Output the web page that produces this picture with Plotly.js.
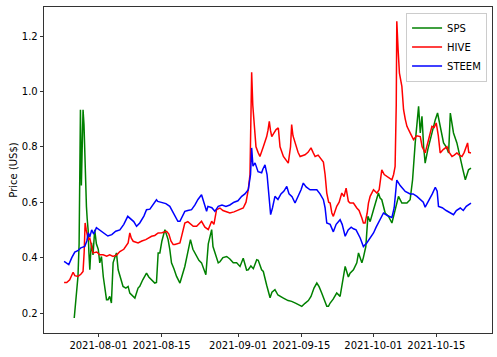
<!DOCTYPE html>
<html>
<head>
<meta charset="utf-8">
<script src="https://cdn.plot.ly/plotly-3.0.1.min.js"></script>
<style>html,body{margin:0;padding:0;background:#fff;}#chart{width:497px;height:357px;}</style>
</head>
<body>
<div id="chart"></div>
<script>
const spsDates = [
"2021-07-26 15:00","2021-07-26 20:00","2021-07-27 03:00","2021-07-27 11:00","2021-07-27 17:00","2021-07-27 20:00","2021-07-28 00:00","2021-07-28 05:00","2021-07-28 10:00","2021-07-28 14:00",
"2021-07-28 19:00","2021-07-28 23:00","2021-07-29 03:00","2021-07-29 08:00","2021-07-29 12:00","2021-07-29 17:00","2021-07-29 21:00","2021-07-30 02:00","2021-07-30 07:00","2021-07-30 11:00",
"2021-07-30 19:00","2021-07-31 04:00","2021-07-31 13:00","2021-07-31 23:00","2021-08-01 07:00","2021-08-01 16:00","2021-08-02 02:00","2021-08-02 10:00","2021-08-02 19:00","2021-08-03 03:00",
"2021-08-03 12:00","2021-08-03 21:00","2021-08-04 06:00","2021-08-04 15:00","2021-08-05 00:00","2021-08-05 09:00","2021-08-06 03:00","2021-08-06 11:00","2021-08-07 02:00","2021-08-07 14:00",
"2021-08-07 23:00","2021-08-08 17:00","2021-08-09 02:00","2021-08-09 19:00","2021-08-10 04:00","2021-08-10 20:00","2021-08-11 16:00","2021-08-12 04:00","2021-08-12 19:00","2021-08-13 12:00",
"2021-08-13 21:00","2021-08-14 06:00","2021-08-14 15:00","2021-08-15 02:00","2021-08-15 18:00","2021-08-16 11:00","2021-08-16 20:00","2021-08-17 05:00","2021-08-17 18:00","2021-08-18 08:00",
"2021-08-19 02:00","2021-08-19 18:00","2021-08-20 04:00","2021-08-20 20:00","2021-08-21 10:00","2021-08-21 23:00","2021-08-22 19:00","2021-08-23 07:00","2021-08-23 21:00","2021-08-24 10:00",
"2021-08-24 20:00","2021-08-25 09:00","2021-08-25 18:00","2021-08-26 03:00","2021-08-26 10:00","2021-08-26 20:00","2021-08-27 14:00","2021-08-27 23:00","2021-08-28 15:00","2021-08-29 11:00",
"2021-08-30 04:00","2021-08-30 22:00","2021-08-31 16:00","2021-09-01 10:00","2021-09-02 03:00","2021-09-02 21:00","2021-09-03 06:00","2021-09-03 20:00","2021-09-04 09:00","2021-09-05 03:00",
"2021-09-05 11:00","2021-09-06 05:00","2021-09-06 14:00","2021-09-07 08:00","2021-09-07 18:00","2021-09-08 02:00","2021-09-08 12:00","2021-09-09 04:00","2021-09-09 20:00","2021-09-10 07:00",
"2021-09-11 01:00","2021-09-12 02:00","2021-09-12 21:00","2021-09-13 20:00","2021-09-15 03:00","2021-09-15 20:00","2021-09-16 14:00","2021-09-17 04:00","2021-09-17 20:00","2021-09-18 11:00",
"2021-09-18 23:00","2021-09-19 13:00","2021-09-20 02:00","2021-09-20 16:00","2021-09-21 01:00","2021-09-21 10:00","2021-09-22 02:00","2021-09-22 21:00","2021-09-23 15:00","2021-09-24 02:00",
"2021-09-24 18:00","2021-09-25 11:00","2021-09-25 20:00","2021-09-26 14:00","2021-09-27 08:00","2021-09-27 17:00","2021-09-28 11:00","2021-09-28 19:00","2021-09-29 08:00","2021-09-29 19:00",
"2021-09-30 07:00","2021-10-01 01:00","2021-10-01 19:00","2021-10-02 03:00","2021-10-02 12:00","2021-10-02 21:00","2021-10-03 15:00","2021-10-04 09:00","2021-10-05 03:00","2021-10-05 20:00",
"2021-10-06 14:00","2021-10-07 08:00","2021-10-08 11:00","2021-10-09 04:00","2021-10-09 17:00","2021-10-10 07:00","2021-10-10 16:00","2021-10-11 01:00","2021-10-11 10:00","2021-10-11 19:00",
"2021-10-12 04:00","2021-10-12 12:00","2021-10-13 02:00","2021-10-13 15:00","2021-10-14 04:00","2021-10-14 18:00","2021-10-15 06:00","2021-10-15 20:00","2021-10-16 14:00","2021-10-17 04:00",
"2021-10-17 17:00","2021-10-18 02:00","2021-10-18 10:00","2021-10-18 19:00","2021-10-19 13:00","2021-10-20 07:00","2021-10-20 20:00","2021-10-21 10:00","2021-10-21 18:00","2021-10-22 03:00",
"2021-10-22 16:00"];
const spsPrice = [
0.182,0.22,0.28,0.332,0.45,0.63,0.934,0.66,0.90,0.934,
0.88,0.765,0.73,0.585,0.54,0.50,0.42,0.356,0.42,0.453,
0.41,0.50,0.45,0.43,0.381,0.404,0.33,0.284,0.248,0.248,
0.26,0.236,0.381,0.40,0.417,0.356,0.32,0.296,0.29,0.296,
0.272,0.26,0.254,0.29,0.296,0.32,0.344,0.33,0.32,0.308,
0.31,0.417,0.417,0.46,0.501,0.465,0.43,0.381,0.36,0.332,
0.308,0.34,0.368,0.42,0.465,0.43,0.404,0.39,0.381,0.36,
0.338,0.45,0.48,0.501,0.44,0.417,0.381,0.385,0.40,0.404,
0.395,0.381,0.381,0.368,0.398,0.355,0.356,0.37,0.36,0.392,
0.39,0.356,0.35,0.30,0.27,0.255,0.275,0.284,0.265,0.26,
0.254,0.245,0.242,0.235,0.224,0.235,0.245,0.26,0.29,0.308,
0.295,0.272,0.25,0.224,0.224,0.236,0.25,0.272,0.26,0.30,
0.368,0.33,0.344,0.356,0.381,0.417,0.381,0.40,0.44,0.549,
0.53,0.573,0.609,0.633,0.615,0.609,0.561,0.549,0.525,0.573,
0.621,0.597,0.597,0.609,0.681,0.814,0.874,0.946,0.85,0.91,
0.80,0.741,0.79,0.826,0.87,0.898,0.922,0.874,0.814,0.80,
0.778,0.922,0.88,0.85,0.814,0.753,0.72,0.681,0.70,0.717,
0.723];

const hiveDates = [
"2021-07-24 09:00","2021-07-24 23:00","2021-07-25 15:00","2021-07-26 09:00","2021-07-26 18:00","2021-07-27 11:00","2021-07-28 02:00","2021-07-28 14:00","2021-07-28 20:00","2021-07-29 01:00",
"2021-07-29 07:00","2021-07-29 17:00","2021-07-30 02:00","2021-07-30 19:00","2021-07-31 15:00","2021-08-01 07:00","2021-08-02 01:00","2021-08-02 20:00","2021-08-03 12:00","2021-08-04 06:00",
"2021-08-05 02:00","2021-08-05 18:00","2021-08-06 15:00","2021-08-07 14:00","2021-08-07 23:00","2021-08-08 07:00","2021-08-08 17:00","2021-08-09 07:00","2021-08-09 19:00","2021-08-10 15:00",
"2021-08-11 12:00","2021-08-12 19:00","2021-08-13 12:00","2021-08-14 06:00","2021-08-15 02:00","2021-08-16 03:00","2021-08-16 15:00","2021-08-17 02:00","2021-08-17 14:00","2021-08-17 23:00",
"2021-08-18 15:00","2021-08-19 02:00","2021-08-19 12:00","2021-08-20 04:00","2021-08-20 20:00","2021-08-21 12:00","2021-08-22 01:00","2021-08-22 19:00","2021-08-23 07:00","2021-08-23 21:00",
"2021-08-24 15:00","2021-08-25 09:00","2021-08-26 03:00","2021-08-26 15:00","2021-08-27 05:00","2021-08-27 23:00","2021-08-28 15:00","2021-08-29 07:00","2021-08-30 04:00","2021-08-31 02:00",
"2021-08-31 23:00","2021-09-02 03:00","2021-09-02 18:00","2021-09-03 06:00","2021-09-03 15:00","2021-09-03 19:00","2021-09-04 00:00","2021-09-04 06:00","2021-09-04 12:00","2021-09-04 18:00",
"2021-09-04 23:00","2021-09-05 10:00","2021-09-05 20:00","2021-09-06 14:00","2021-09-07 08:00","2021-09-07 15:00","2021-09-07 22:00","2021-09-08 04:00","2021-09-08 11:00","2021-09-08 23:00",
"2021-09-09 10:00","2021-09-09 22:00","2021-09-10 07:00","2021-09-11 01:00","2021-09-11 15:00","2021-09-12 03:00","2021-09-12 15:00","2021-09-12 21:00","2021-09-13 04:00","2021-09-13 15:00",
"2021-09-14 07:00","2021-09-14 18:00","2021-09-15 20:00","2021-09-16 12:00","2021-09-17 04:00","2021-09-17 15:00","2021-09-18 02:00","2021-09-18 18:00","2021-09-19 04:00","2021-09-19 22:00",
"2021-09-20 07:00","2021-09-20 16:00","2021-09-21 02:00","2021-09-21 10:00","2021-09-21 19:00","2021-09-22 03:00","2021-09-22 21:00","2021-09-23 10:00","2021-09-24 00:00","2021-09-24 12:00",
"2021-09-24 23:00","2021-09-25 11:00","2021-09-25 20:00","2021-09-26 14:00","2021-09-27 08:00","2021-09-27 20:00","2021-09-28 11:00","2021-09-28 19:00","2021-09-29 04:00","2021-09-29 15:00",
"2021-09-29 22:00","2021-09-30 07:00","2021-10-01 01:00","2021-10-01 19:00","2021-10-02 07:00","2021-10-02 21:00","2021-10-03 10:00","2021-10-04 00:00","2021-10-04 12:00","2021-10-05 03:00",
"2021-10-05 12:00","2021-10-05 20:00","2021-10-06 02:00","2021-10-06 05:00","2021-10-06 12:00","2021-10-06 19:00","2021-10-07 08:00","2021-10-07 17:00","2021-10-08 02:00","2021-10-08 11:00",
"2021-10-09 04:00","2021-10-09 22:00","2021-10-10 15:00","2021-10-11 10:00","2021-10-11 20:00","2021-10-12 12:00","2021-10-13 04:00","2021-10-14 00:00","2021-10-14 12:00","2021-10-14 23:00",
"2021-10-15 10:00","2021-10-15 20:00","2021-10-16 12:00","2021-10-17 08:00","2021-10-17 20:00","2021-10-18 11:00","2021-10-18 23:00","2021-10-19 13:00","2021-10-20 02:00","2021-10-20 16:00",
"2021-10-21 04:00","2021-10-21 15:00","2021-10-21 22:00","2021-10-22 04:00","2021-10-22 16:00"];
const hivePrice = [
0.31,0.31,0.32,0.347,0.335,0.332,0.34,0.35,0.42,0.525,
0.50,0.465,0.47,0.417,0.42,0.41,0.41,0.405,0.41,0.404,
0.41,0.422,0.43,0.453,0.489,0.47,0.459,0.455,0.453,0.46,
0.465,0.477,0.48,0.489,0.49,0.495,0.485,0.46,0.447,0.447,
0.45,0.453,0.48,0.525,0.53,0.52,0.513,0.513,0.52,0.531,
0.51,0.501,0.531,0.52,0.573,0.579,0.57,0.565,0.561,0.565,
0.57,0.579,0.60,0.645,0.70,0.90,1.069,0.95,0.886,0.84,
0.80,0.78,0.765,0.80,0.837,0.86,0.892,0.86,0.837,0.85,
0.862,0.868,0.80,0.765,0.75,0.741,0.80,0.88,0.84,0.814,
0.78,0.765,0.771,0.78,0.796,0.78,0.765,0.77,0.76,0.745,
0.70,0.633,0.60,0.597,0.561,0.549,0.585,0.60,0.633,0.62,
0.651,0.603,0.597,0.597,0.579,0.57,0.543,0.525,0.525,0.56,
0.597,0.621,0.645,0.633,0.645,0.717,0.70,0.693,0.69,0.681,
0.70,0.729,0.95,1.253,1.15,1.066,1.018,0.934,0.90,0.874,
0.85,0.826,0.84,0.837,0.80,0.778,0.82,0.874,0.87,0.886,
0.84,0.778,0.79,0.80,0.78,0.765,0.77,0.778,0.77,0.765,
0.78,0.80,0.814,0.78,0.778];

const steemDates = [
"2021-07-24 09:00","2021-07-24 23:00","2021-07-25 10:00","2021-07-26 02:00","2021-07-26 18:00","2021-07-27 10:00","2021-07-28 02:00","2021-07-28 23:00","2021-07-29 10:00","2021-07-29 18:00",
"2021-07-30 02:00","2021-07-30 12:00","2021-07-30 23:00","2021-07-31 13:00","2021-08-01 07:00","2021-08-02 04:00","2021-08-03 02:00","2021-08-03 23:00","2021-08-04 20:00","2021-08-05 18:00",
"2021-08-06 15:00","2021-08-07 12:00","2021-08-08 04:00","2021-08-08 20:00","2021-08-09 11:00","2021-08-10 04:00","2021-08-11 02:00","2021-08-11 16:00","2021-08-12 10:00","2021-08-13 02:00",
"2021-08-13 21:00","2021-08-14 04:00","2021-08-15 02:00","2021-08-15 23:00","2021-08-16 20:00","2021-08-17 05:00","2021-08-17 23:00","2021-08-18 15:00","2021-08-19 02:00","2021-08-19 18:00",
"2021-08-20 04:00","2021-08-20 20:00","2021-08-21 16:00","2021-08-22 10:00","2021-08-23 02:00","2021-08-23 21:00","2021-08-24 10:00","2021-08-25 00:00","2021-08-25 07:00","2021-08-26 04:00",
"2021-08-26 20:00","2021-08-27 14:00","2021-08-28 10:00","2021-08-29 07:00","2021-08-30 04:00","2021-08-31 02:00","2021-08-31 23:00","2021-09-01 19:00","2021-09-02 12:00","2021-09-03 06:00",
"2021-09-03 18:00","2021-09-04 00:00","2021-09-04 07:00","2021-09-04 18:00","2021-09-05 10:00","2021-09-06 05:00","2021-09-06 12:00","2021-09-06 23:00","2021-09-07 10:00","2021-09-07 17:00",
"2021-09-07 23:00","2021-09-08 05:00","2021-09-08 15:00","2021-09-09 04:00","2021-09-09 20:00","2021-09-10 12:00","2021-09-11 04:00","2021-09-11 19:00","2021-09-12 07:00","2021-09-12 23:00",
"2021-09-13 15:00","2021-09-14 07:00","2021-09-14 23:00","2021-09-15 11:00","2021-09-16 02:00","2021-09-16 23:00","2021-09-17 20:00","2021-09-18 11:00","2021-09-19 04:00","2021-09-19 22:00",
"2021-09-20 07:00","2021-09-20 16:00","2021-09-21 10:00","2021-09-22 03:00","2021-09-22 18:00","2021-09-23 15:00","2021-09-24 02:00","2021-09-24 18:00","2021-09-25 10:00","2021-09-26 02:00",
"2021-09-26 14:00","2021-09-27 04:00","2021-09-28 02:00","2021-09-28 19:00","2021-09-29 13:00","2021-09-30 07:00","2021-10-01 01:00","2021-10-01 15:00","2021-10-02 12:00","2021-10-03 06:00",
"2021-10-04 07:00","2021-10-05 03:00","2021-10-05 15:00","2021-10-06 05:00","2021-10-06 23:00","2021-10-08 02:00","2021-10-09 04:00","2021-10-09 20:00","2021-10-10 16:00","2021-10-11 10:00",
"2021-10-12 02:00","2021-10-12 12:00","2021-10-13 04:00","2021-10-14 02:00","2021-10-14 18:00","2021-10-15 04:00","2021-10-15 11:00","2021-10-16 07:00","2021-10-17 04:00","2021-10-18 02:00",
"2021-10-18 19:00","2021-10-19 10:00","2021-10-20 07:00","2021-10-20 23:00","2021-10-21 15:00","2021-10-22 16:00"];
const steemPrice = [
0.386,0.378,0.375,0.40,0.42,0.425,0.435,0.44,0.46,0.49,
0.475,0.50,0.485,0.508,0.50,0.49,0.478,0.483,0.495,0.50,
0.52,0.549,0.54,0.53,0.513,0.525,0.55,0.573,0.575,0.59,
0.609,0.603,0.60,0.595,0.585,0.573,0.55,0.531,0.531,0.55,
0.567,0.57,0.573,0.59,0.61,0.627,0.60,0.567,0.585,0.58,
0.567,0.585,0.59,0.585,0.59,0.60,0.605,0.621,0.63,0.645,
0.70,0.796,0.73,0.742,0.71,0.706,0.72,0.735,0.70,0.645,
0.60,0.555,0.58,0.621,0.61,0.63,0.64,0.657,0.63,0.62,
0.597,0.62,0.645,0.669,0.655,0.645,0.645,0.645,0.63,0.609,
0.58,0.525,0.52,0.493,0.52,0.537,0.52,0.477,0.50,0.51,
0.504,0.50,0.471,0.44,0.453,0.47,0.489,0.51,0.537,0.561,
0.55,0.545,0.58,0.68,0.66,0.639,0.63,0.63,0.621,0.61,
0.60,0.582,0.60,0.63,0.654,0.64,0.585,0.58,0.57,0.56,
0.555,0.57,0.579,0.57,0.585,0.597];

const tickDates = ["2021-08-01","2021-08-15","2021-09-01","2021-09-15","2021-10-01","2021-10-15"];
const yTicks = [0.2,0.4,0.6,0.8,1.0,1.2];

const font = {family: "DejaVu Sans, sans-serif", size: 10, color: "#000"};
const traces = [
  {x: spsDates, y: spsPrice, name: "SPS", type: "scatter", mode: "lines", line: {color: "#008000", width: 1.5}},
  {x: hiveDates, y: hivePrice, name: "HIVE", type: "scatter", mode: "lines", line: {color: "#ff0000", width: 1.5}},
  {x: steemDates, y: steemPrice, name: "STEEM", type: "scatter", mode: "lines", line: {color: "#0000ff", width: 1.5}}
];
const layout = {
  width: 497, height: 357,
  margin: {l: 44, r: 5, t: 7, b: 24},
  paper_bgcolor: "#fff", plot_bgcolor: "#fff",
  font: font,
  showlegend: true,
  legend: {x: 0.989, xanchor: "right", y: 0.983, yanchor: "top", bgcolor: "rgba(255,255,255,0.8)",
           bordercolor: "#cccccc", borderwidth: 1, font: font, itemwidth: 30, tracegroupgap: 0},
  xaxis: {type: "date", range: ["2021-07-19 22:00", "2021-10-27 08:00"],
          tickvals: tickDates, ticktext: tickDates, ticks: "outside", ticklen: 3.5, tickwidth: 0.8,
          tickcolor: "#000", showgrid: false, zeroline: false, showline: true, mirror: true,
          linecolor: "#000", linewidth: 0.8, tickfont: font},
  yaxis: {range: [0.1278, 1.3047], tickvals: yTicks, tickformat: ".1f", ticks: "outside", ticklen: 3.5,
          tickwidth: 0.8, tickcolor: "#000", showgrid: false, zeroline: false, showline: true, mirror: true,
          linecolor: "#000", linewidth: 0.8, tickfont: font,
          title: {text: "Price (US$)", font: font, standoff: 2}}
};
Plotly.newPlot("chart", traces, layout, {displayModeBar: false, staticPlot: true});
</script>
</body>
</html>
